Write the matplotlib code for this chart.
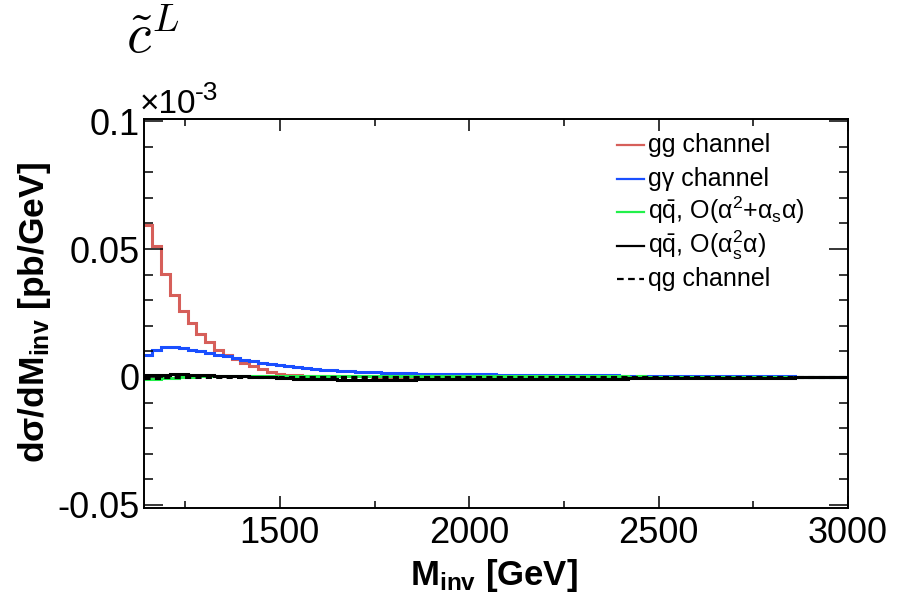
import numpy as np
import matplotlib
matplotlib.use('Agg')
from matplotlib import pyplot as plt
from matplotlib.lines import Line2D
from matplotlib.ticker import MultipleLocator, FixedLocator

plt.rcParams['font.family'] = ['Liberation Sans', 'DejaVu Sans']
plt.rcParams['mathtext.fontset'] = 'custom'
plt.rcParams['mathtext.rm'] = 'Liberation Sans'
plt.rcParams['mathtext.it'] = 'Liberation Sans:italic'
plt.rcParams['mathtext.bf'] = 'Liberation Sans:bold'
plt.rcParams['mathtext.sf'] = 'Liberation Sans'

# binning of M_inv [GeV]
m_lo, m_hi, n_bins = 1140, 3000, 80

# dsigma/dM_inv in units of 1e-3 pb/GeV
gg = [0.0593, 0.0512, 0.0403, 0.0321, 0.0257, 0.0210, 0.0168, 0.0136, 0.0107, 0.0087,
      0.0071, 0.0056, 0.0043, 0.0030, 0.0019, 0.0013, 0.0009, 0.0007, 0.0005, 0.0004,
      0.0003, 0.0003, 0.0002, 0.0002, 0.0002, 0.0002, 0.0001, 0.0001, 0.0001, 0.0001,
      0.0001, 0.0001, 0.0001, 0.0001, 0.0001, 0.0001, 0.0001, 0.0001, 0.0001, 0.0001,
      0.0001, 0.0001, 0.0001, 0.0001, 0.0001, 0.0, 0.0, 0.0, 0.0, 0.0,
      0.0, 0.0, 0.0, 0.0, 0.0, 0.0, 0.0, 0.0, 0.0, 0.0,
      0.0, 0.0, 0.0, 0.0, 0.0, 0.0, 0.0, 0.0, 0.0, 0.0,
      0.0, 0.0, 0.0, 0.0, 0.0, 0.0, 0.0, 0.0, 0.0, 0.0]
gA = [0.0084, 0.0107, 0.0117, 0.0118, 0.0113, 0.0106, 0.0100, 0.0093, 0.0087, 0.0080,
      0.0074, 0.0067, 0.0061, 0.0056, 0.0051, 0.0047, 0.0043, 0.0039, 0.0035, 0.0031,
      0.0028, 0.0026, 0.0024, 0.0022, 0.0021, 0.0019, 0.0018, 0.0017, 0.0016, 0.0015,
      0.0014, 0.0013, 0.0013, 0.0012, 0.0012, 0.0011, 0.0011, 0.0010, 0.0010, 0.0010,
      0.0009, 0.0009, 0.0009, 0.0008, 0.0008, 0.0008, 0.0007, 0.0007, 0.0007, 0.0007,
      0.0006, 0.0006, 0.0006, 0.0006, 0.0005, 0.0005, 0.0005, 0.0005, 0.0004, 0.0004,
      0.0004, 0.0004, 0.0004, 0.0003, 0.0003, 0.0003, 0.0003, 0.0003, 0.0002, 0.0002,
      0.0002, 0.0002, 0.0002, 0.0002, 0.0001, 0.0001, 0.0001, 0.0001, 0.0001, 0.0001]
qq_ew = [-0.0006, -0.0006, -0.0005, -0.0004, -0.0002, 0.0000, 0.0003, 0.0004, 0.0004, 0.0005,
         0.0005, 0.0005, 0.0005, 0.0004, 0.0004, 0.0004, 0.0004, 0.0004, 0.0004, 0.0004,
         0.0004, 0.0004, 0.0004, 0.0004, 0.0003, 0.0004, 0.0003, 0.0003, 0.0003, 0.0003,
         0.0003, 0.0003, 0.0003, 0.0003, 0.0003, 0.0003, 0.0003, 0.0003, 0.0002, 0.0003,
         0.0002, 0.0002, 0.0002, 0.0002, 0.0002, 0.0002, 0.0002, 0.0002, 0.0002, 0.0002,
         0.0002, 0.0002, 0.0002, 0.0002, 0.0002, 0.0001, 0.0002, 0.0001, 0.0001, 0.0001,
         0.0001, 0.0001, 0.0001, 0.0001, 0.0001, 0.0001, 0.0001, 0.0001, 0.0001, 0.0001,
         0.0001, 0.0001, 0.0001, 0.0001, 0.0001, 0.0001, 0.0001, 0.0001, 0.0001, 0.0001]
qq_qcd = [0.0006, 0.0008, 0.0009, 0.0010, 0.0010, 0.0009, 0.0008, 0.0007, 0.0005, 0.0004,
          0.0003, 0.0002, 0.0001, 0.0000, -0.0002, -0.0003, -0.0005, -0.0006, -0.0007, -0.0008,
          -0.0009, -0.0009, -0.0010, -0.0010, -0.0010, -0.0010, -0.0010, -0.0010, -0.0010, -0.0010,
          -0.0010, -0.0009, -0.0009, -0.0009, -0.0009, -0.0009, -0.0009, -0.0008, -0.0008, -0.0008,
          -0.0008, -0.0008, -0.0008, -0.0007, -0.0007, -0.0007, -0.0007, -0.0007, -0.0007, -0.0006,
          -0.0006, -0.0006, -0.0006, -0.0006, -0.0006, -0.0005, -0.0005, -0.0005, -0.0005, -0.0005,
          -0.0005, -0.0005, -0.0004, -0.0004, -0.0004, -0.0004, -0.0004, -0.0004, -0.0003, -0.0003,
          -0.0003, -0.0003, -0.0003, -0.0003, -0.0002, -0.0002, -0.0002, -0.0002, -0.0002, -0.0002]
qg = [-0.0003, -0.0003, -0.0002, -0.0002, -0.0002, -0.0002, -0.0002, -0.0002, -0.0002, -0.0002,
      -0.0002, -0.0002, -0.0002, -0.0002, -0.0002, -0.0002, -0.0002, -0.0001, -0.0001, -0.0001,
      -0.0001, -0.0001, -0.0001, -0.0001, -0.0001, -0.0001, -0.0001, -0.0001, -0.0001, -0.0001,
      -0.0001, -0.0001, -0.0001, -0.0001, -0.0001, -0.0001, -0.0001, -0.0001, -0.0001, -0.0001,
      -0.0001, -0.0001, -0.0001, -0.0001, -0.0001, -0.0001, -0.0001, -0.0001, -0.0001, -0.0001,
      0.0, 0.0, 0.0, 0.0, 0.0, 0.0, 0.0, 0.0, 0.0, 0.0,
      0.0, 0.0, 0.0, 0.0, 0.0, 0.0, 0.0, 0.0, 0.0, 0.0,
      0.0, 0.0, 0.0, 0.0, 0.0, 0.0, 0.0, 0.0, 0.0, 0.0]

labels = ['gg channel',
          'gγ channel',
          'q$\\bar{\\mathrm{q}}$, O(α$^{2}$+α$_{\\mathrm{s}}$α)',
          'q$\\bar{\\mathrm{q}}$, O(α$_{\\mathrm{s}}^{2}$α)',
          'qg channel']
colors = ['#d65f5a', '#1a4fff', '#22f04a', 'black', 'black']
styles = ['-', '-', '-', '-', '--']

W, H = 908, 594
def fx(x):
    return x / W
def fy(y):
    return 1 - y / H

fig = plt.figure(figsize=(W / 100, H / 100), dpi=100)
ax = fig.add_axes([fx(143.5), fy(508), fx(848) - fx(143.5), fy(119) - fy(508)])

edges = np.linspace(m_lo, m_hi, n_bins + 1)
series = [gg, gA, qq_ew, qq_qcd, qg]
for vals, c, ls in zip(series, colors, styles):
    st = ax.stairs(vals, edges, color=c, lw=2.2, baseline=None)
    if ls == '--':
        st.set_linestyle((0, (2.0, 1.4)))

ax.set_xlim(m_lo, m_hi)
ax.set_ylim(-0.0512, 0.1008)

ax.xaxis.set_major_locator(FixedLocator([1500, 2000, 2500, 3000]))
ax.xaxis.set_minor_locator(FixedLocator([1250, 1750, 2250, 2750]))
ax.set_xticklabels(['1500', '2000', '2500', '3000'])
ax.set_yticks([-0.05, 0, 0.05, 0.1])
ax.set_yticklabels(['-0.05', '0', '0.05', '0.1'])
ax.yaxis.set_minor_locator(MultipleLocator(0.01))

ax.tick_params(axis='both', which='both', direction='in', top=True, right=True,
               width=1.1, labelsize=26)
ax.tick_params(axis='x', which='major', length=8.6, pad=6)
ax.tick_params(axis='x', which='minor', length=5)
ax.tick_params(axis='y', which='major', length=13.5, pad=3)
ax.tick_params(axis='y', which='minor', length=6.5)
for sp in ax.spines.values():
    sp.set_linewidth(1.4)

# axis titles
fig.text(fx(35), fy(313), 'dσ/dM$_{\\mathbf{inv}}$ [pb/GeV]', rotation=90,
         ha='center', va='center', fontsize=25.5, fontweight='bold')
fig.text(fx(494), fy(585), 'M$_{\\mathbf{inv}}$ [GeV]', ha='center', va='baseline',
         fontsize=25, fontweight='bold')
fig.text(fx(140), fy(113), '×10', ha='left', va='baseline', fontsize=24)
fig.text(fx(195), fy(100), '-3', ha='left', va='baseline', fontsize=19)
fig.text(fx(126), fy(53), r'$\tilde{c}^L$', ha='left', va='baseline', fontsize=40,
         math_fontfamily='cm')

# legend
row_y = [145, 179, 212, 246, 279]
for yy, lab, c, ls in zip(row_y, labels, colors, styles):
    ln = Line2D([fx(617), fx(644)], [fy(yy), fy(yy)], color=c, lw=1.6,
                transform=fig.transFigure)
    if ls == '--':
        ln.set_linestyle((0, (3, 2)))
    fig.add_artist(ln)
    fig.text(fx(648), fy(yy + 7), lab, ha='left', va='baseline', fontsize=18)

fig.savefig('out.png', dpi=100)
